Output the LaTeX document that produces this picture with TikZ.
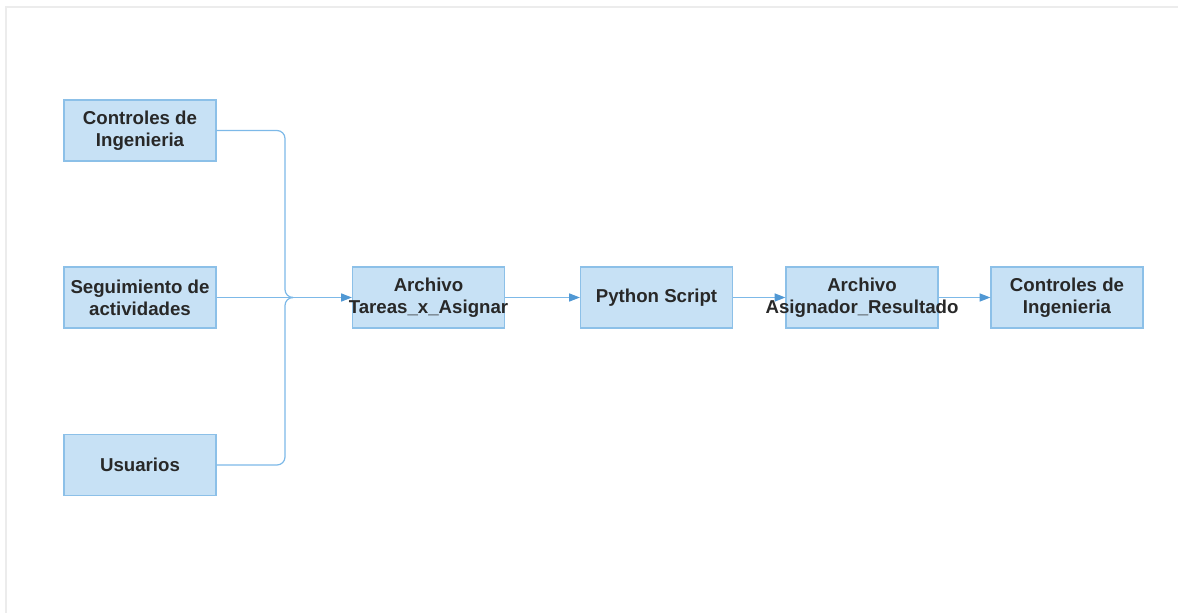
\documentclass[tikz,border=0pt]{standalone}
\usepackage{fontspec}
\setmainfont{Liberation Sans}
\usetikzlibrary{arrows.meta}
\definecolor{boxfill}{RGB}{199,225,245}
\definecolor{boxline}{RGB}{140,192,232}
\definecolor{wire}{RGB}{125,185,232}
\definecolor{tipcol}{RGB}{80,152,212}
\definecolor{txt}{RGB}{40,40,40}
\definecolor{frame}{RGB}{236,236,236}
\tikzset{
  block/.style={draw=boxline, line width=0.9pt, fill=boxfill, minimum width=152*0.75pt,
    minimum height=61*0.75pt, inner sep=0pt},
  lbl/.style={inner sep=0pt, align=center, text=txt,
    font=\fontsize{14}{16.5}\selectfont\bfseries},
  link/.style={draw=wire, line width=0.9pt, -{Triangle[length=8pt,width=6pt,color=tipcol]}},
  merge/.style={draw=wire, line width=0.9pt, rounded corners=6pt}
}
\begin{document}
\begin{tikzpicture}[x=0.75pt,y=-0.75pt]
\useasboundingbox (0,0) rectangle (1178,613);
% page frame
\draw[frame, line width=1.5pt] (6,613) -- (6,7) -- (1178,7);

% sources
\node[block] (ctrlA) at (140,130.5) {};
\node[lbl] at (ctrlA) {Controles de\\Ingenieria};
\node[block] (seg) at (140,297.5) {};
\node[lbl] at (seg) {Seguimiento de\\actividades};
\node[block] (usr) at (140,465) {};
\node[lbl] at (usr) {Usuarios};

% pipeline (wide labels may run past the box edges)
\node[block] (tareas) at (428.5,297.5) {};
\node[lbl] at (tareas) {Archivo\\Tareas\_x\_Asignar};
\node[block] (py) at (656.5,297.5) {};
\node[lbl] at (py) {Python Script};
\node[block] (asig) at (862,297.5) {};
\node[block] (ctrlB) at (1067,297.5) {};
\node[lbl] at (ctrlB) {Controles de\\Ingenieria};

% merging of the three sources
\coordinate (j) at (292,297.5);
\draw[merge] (ctrlA.east) -| (285,297.5) -- (j);
\draw[merge] (usr.east) -| (285,297.5) -- (j);
\draw[link] (seg.east) -- (tareas.west);

\draw[link] (tareas.east) -- (py.west);
\draw[link] (py.east) -- (asig.west);
\draw[link] (asig.east) -- (ctrlB.west);
\node[lbl] at (asig) {Archivo\\Asignador\_Resultado};
\end{tikzpicture}
\end{document}
